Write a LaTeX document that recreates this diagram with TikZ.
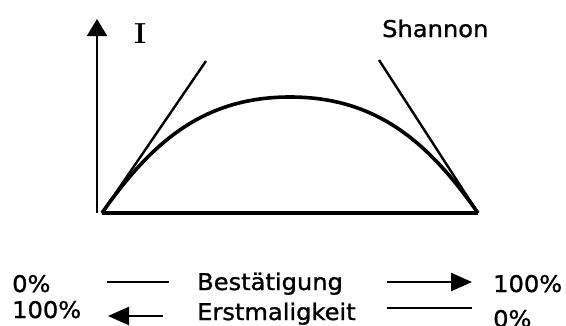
\documentclass[tikz,border=0pt]{standalone}
\usepackage{fontspec}
\newfontfamily\labelfont{DejaVu Sans}[FakeStretch=1.05,FakeBold=1.2]
\usetikzlibrary{arrows.meta}

\begin{document}
\begin{tikzpicture}[x=1pt, y=-1pt,
    lbl/.style={inner sep=0pt, anchor=base west, font=\labelfont\fontsize{23}{27}\selectfont},
    curveline/.style={line width=3.6pt, line join=round},
    tangent/.style={line width=2.4pt},
    tipline/.style={-{Triangle[length=21pt,width=18pt]}, line width=2.4pt}
]
\useasboundingbox (0,0) rectangle (566,325);

\coordinate (ybot) at (97,213);
\coordinate (ytop) at (97,19);
\coordinate (o) at (102,213);
\coordinate (peak) at (290,97);
\coordinate (e) at (478,213);
\coordinate (lt) at (206,61);
\coordinate (rt) at (379,60);

\draw[line width=2pt, -{Triangle[length=17pt,width=20pt]}] (ybot) -- (ytop);
\node[inner sep=0pt, anchor=base west, font=\bfseries\fontsize{29}{30}\selectfont] (ilabel) at (134,43) {I};
\node[lbl] (shannon) at (382,37) {Shannon};

\draw[curveline] (o) -- (e);
\draw[curveline] (o) .. controls (151.6,142.1) and (203.5,97) .. (peak)
    .. controls (376.5,97) and (428.4,142.1) .. (e);
\draw[tangent] (o) -- (lt);
\draw[tangent] (e) -- (rt);

\node[lbl] (zeroa) at (12,292) {0\%};
\node[lbl] (hundreda) at (12,318) {100\%};
\node[lbl] (best) at (197,290) {Bestätigung};
\node[lbl] (erst) at (197,320) {Erstmaligkeit};
\node[lbl] (hundredb) at (493,292) {100\%};
\node[lbl] (zerob) at (493,327) {0\%};

\coordinate (d1a) at (107,282);
\coordinate (d1b) at (169,282);
\coordinate (a1a) at (387,282);
\coordinate (a1b) at (472,282);
\coordinate (a2a) at (163,316);
\coordinate (a2b) at (108,316);
\coordinate (d2a) at (387,308);
\coordinate (d2b) at (472,308);

\draw[line width=2.4pt] (d1a) -- (d1b);
\draw[tipline] (a1a) -- (a1b);
\draw[tipline] (a2a) -- (a2b);
\draw[line width=2.4pt] (d2a) -- (d2b);
\end{tikzpicture}
\end{document}
